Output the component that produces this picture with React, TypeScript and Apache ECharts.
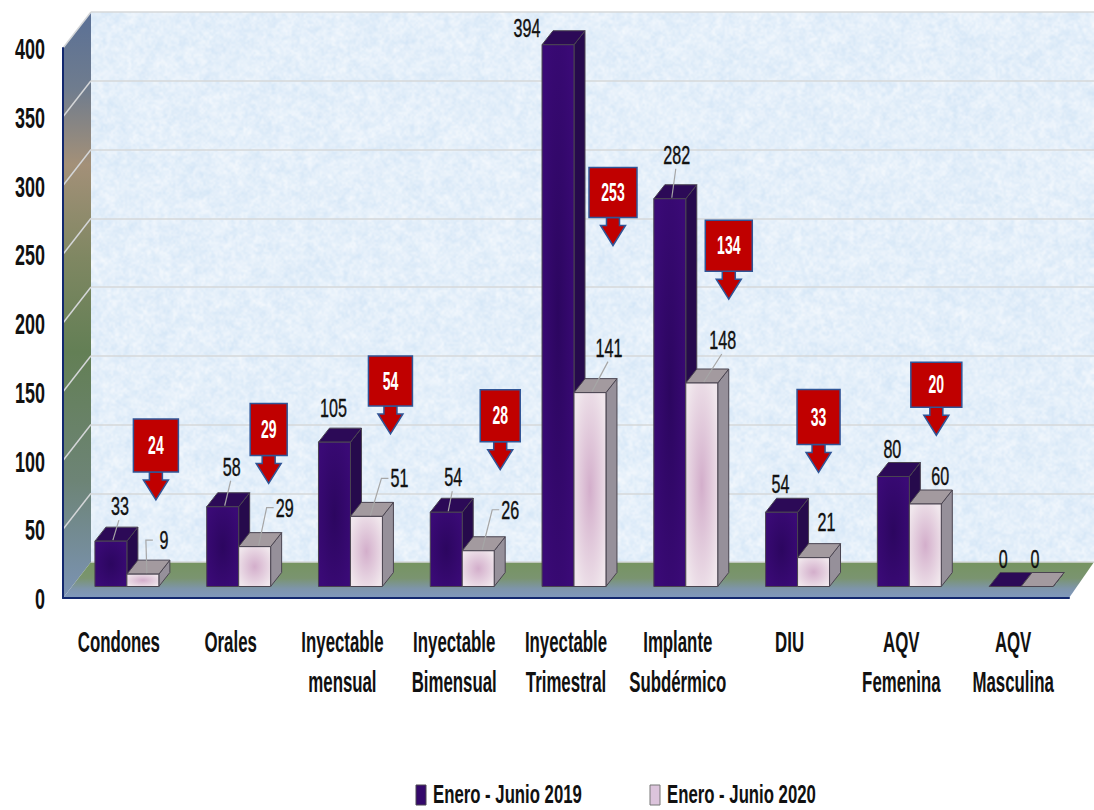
import React, { useEffect, useRef } from "react";
import * as echarts from "echarts";

const categories = ["Condones", "Orales", "Inyectable\nmensual", "Inyectable\nBimensual", "Inyectable\nTrimestral", "Implante\nSubdérmico", "DIU", "AQV\nFemenina", "AQV\nMasculina"];
const seriesNames = ["Enero - Junio 2019", "Enero - Junio 2020"];
const values2019 = [33, 58, 105, 54, 394, 282, 54, 80, 0];
const values2020 = [9, 29, 51, 26, 141, 148, 21, 60, 0];
const yTicks = [0, 50, 100, 150, 200, 250, 300, 350, 400];
const dropCategory = [0, 1, 2, 3, 4, 5, 6, 7];
const dropValues = [24, 29, 54, 28, 253, 134, 33, 20];
const dropLevels = [63, 75, 111, 85, 248, 209, 83, 110];

// layout only
const dropOffsetX = [29, 30, 40, 38, 39, 43, 21, 27];
const dropWidth = [45, 37, 44, 40, 48, 47, 43, 51];
const dropHeight = [53, 52, 50, 52, 50, 51, 55, 45];
const labelOffset2019 = [[9, -35], [9, -40], [-1, -34], [7, -35], [-31, -17], [7, -44], [-1, -28], [-1, -28], [-2, -28]];
const labelOffset2020 = [[21, -34], [30, -39], [33, -38], [32, -41], [19, -45], [21, -43], [13, -36], [15, -28], [-2, -28]];
const leader2019 = [1, 1, 0, 1, 0, 1, 0, 0, 0];
const leader2020 = [2, 2, 2, 2, 1, 1, 0, 0, 0];

const FONT = "'Liberation Sans', sans-serif";
const DX = 11;
const DY = -14;

function makeTexture(): string {
  const W = 1003, H = 550;
  const out = document.createElement("canvas");
  out.width = W; out.height = H;
  const ctx = out.getContext("2d")!;
  ctx.fillStyle = "#deebf9";
  ctx.fillRect(0, 0, W, H);
  let seed = 12345;
  const next = () => { seed = (seed * 1103515 + 12345) % 2147483648; return seed / 2147483648; };
  const layer = (w: number, h: number, alpha: number) => {
    const c = document.createElement("canvas");
    c.width = w; c.height = h;
    const x = c.getContext("2d")!;
    const img = x.createImageData(w, h);
    for (let i = 0; i < w * h; i++) {
      const n = next();
      img.data[i * 4] = 205 + n * 50;
      img.data[i * 4 + 1] = 226 + n * 29;
      img.data[i * 4 + 2] = 245 + n * 10;
      img.data[i * 4 + 3] = 255;
    }
    x.putImageData(img, 0, 0);
    ctx.globalAlpha = alpha;
    ctx.imageSmoothingEnabled = true;
    ctx.imageSmoothingQuality = "high";
    ctx.drawImage(c, 0, 0, W, H);
  };
  layer(90, 50, 0.4);
  layer(250, 138, 0.4);
  layer(500, 275, 0.25);
  ctx.globalAlpha = 1;
  return out.toDataURL("image/png");
}

const radial = (inner: string, outer: string) =>
  new echarts.graphic.RadialGradient(0.5, 0.5, 0.6, [
    { offset: 0, color: inner },
    { offset: 1, color: outer },
  ]);

function barSeries(
  name: string,
  values: number[],
  shift: number,
  color: { inner: string; outer: string; top: string; side: string },
  offsets: number[][],
  leaders: number[]
) {
  return {
    type: "custom",
    name,
    xAxisIndex: 1,
    yAxisIndex: 1,
    z: 5,
    clip: false,
    itemStyle: { color: color.inner },
    data: values.map((v, i) => [i, v]),
    encode: { x: 0, y: 1 },
    renderItem: (params: any, api: any) => {
      const i = api.value(0);
      const v = api.value(1);
      const top = api.coord([i, v]);
      const base = api.coord([i, 0]);
      const w = api.size([1, 0])[0] * 0.286;
      const x0 = top[0] + shift * w;
      const x1 = x0 + w;
      const stroke = { stroke: "#4a4450", lineWidth: 1 };
      const children: any[] = [];
      children.push({
        type: "polygon",
        shape: { points: [[x1, top[1]], [x1 + DX, top[1] + DY], [x1 + DX, base[1] + DY], [x1, base[1]]] },
        style: { fill: color.side, ...stroke },
      });
      children.push({
        type: "polygon",
        shape: { points: [[x0, top[1]], [x0 + DX, top[1] + DY], [x1 + DX, top[1] + DY], [x1, top[1]]] },
        style: { fill: color.top, ...stroke },
      });
      if (v > 0) {
        children.push({
          type: "rect",
          shape: { x: x0, y: top[1], width: w, height: base[1] - top[1] },
          style: { fill: radial(color.inner, color.outer), ...stroke },
        });
      }
      const cx = x0 + w / 2;
      const off = offsets[i];
      const lx = cx + off[0];
      const ly = top[1] + off[1];
      const line = { stroke: "#a6a6a6", lineWidth: 1.2, fill: "none" };
      if (leaders[i] === 1) {
        children.push({
          type: "polyline",
          shape: { points: [[cx + 2, top[1] - 1], [lx - 1, ly + 14]] },
          style: line,
        });
      } else if (leaders[i] === 2) {
        children.push({
          type: "polyline",
          shape: { points: [[cx + 4, top[1] - 1], [lx - 18, ly], [lx - 11, ly]] },
          style: line,
        });
      }
      children.push({
        type: "text",
        x: lx,
        y: ly,
        scaleX: 0.62,
        style: {
          text: String(v),
          fontFamily: FONT,
          fontSize: 26,
          fill: "#111111",
          stroke: "#111111",
          lineWidth: 0.4,
          align: "center",
          verticalAlign: "middle",
        },
      });
      return { type: "group", children };
    },
  };
}

const dropSeries = {
  type: "custom",
  name: "Diferencia",
  xAxisIndex: 1,
  yAxisIndex: 1,
  z: 6,
  clip: false,
  data: dropCategory.map((c, k) => [c, dropLevels[k], dropValues[k], k]),
  encode: { x: 0, y: 1 },
  renderItem: (params: any, api: any) => {
    const p = api.coord([api.value(0), api.value(1)]);
    const k = api.value(3);
    const cx = p[0] + dropOffsetX[k];
    const tip = p[1];
    const w = dropWidth[k];
    const h = dropHeight[k];
    const bottom = tip - 28;
    const border = { stroke: "#2f5597", lineWidth: 1.5 };
    return {
      type: "group",
      children: [
        {
          type: "polygon",
          shape: {
            points: [[cx - 6.5, bottom], [cx + 6.5, bottom], [cx + 6.5, bottom + 8], [cx + 12.5, bottom + 8], [cx, tip], [cx - 12.5, bottom + 8], [cx - 6.5, bottom + 8]],
          },
          style: { fill: "#c00000", ...border },
        },
        {
          type: "rect",
          shape: { x: cx - w / 2, y: bottom - h, width: w, height: h },
          style: { fill: "#c00000", ...border },
        },
        {
          type: "text",
          x: cx,
          y: bottom - h / 2,
          scaleX: 0.56,
          style: {
            text: String(api.value(2)),
            fontFamily: FONT,
            fontSize: 25,
            fontWeight: "bold",
            fill: "#ffffff",
            align: "center",
            verticalAlign: "middle",
          },
        },
      ],
    };
  },
};

// Tick labels are stretched tall and narrow in the reference, which plain axis labels cannot do.
const axisTextSeries = {
  type: "custom",
  name: "Ejes",
  xAxisIndex: 2,
  yAxisIndex: 2,
  z: 7,
  clip: false,
  silent: true,
  data: [[0, 0]],
  encode: { x: 0, y: 1 },
  renderItem: (params: any, api: any) => {
    const children: any[] = [];
    const base = { fontFamily: FONT, fontSize: 29, fontWeight: "bold", fill: "#111111", verticalAlign: "middle" };
    yTicks.forEach((t) => {
      children.push({
        type: "text",
        x: 45,
        y: api.coord([0, t])[1] + 1,
        scaleX: 0.62,
        style: { ...base, text: String(t), align: "right" },
      });
    });
    categories.forEach((name, i) => {
      const p = api.coord([i, 0]);
      name.split("\n").forEach((ln, j) => {
        children.push({
          type: "text",
          x: p[0],
          y: p[1] + 44 + j * 40,
          scaleX: 0.58,
          style: { ...base, text: ln, align: "center" },
        });
      });
    });
    return { type: "group", children };
  },
};

function backdropSeries(texture: string) {
  return {
    type: "custom",
    name: "Fondo",
    xAxisIndex: 0,
    yAxisIndex: 0,
    z: 0,
    clip: false,
    silent: true,
    data: [[0, 0]],
    encode: { x: 0, y: 1 },
    renderItem: (params: any, api: any) => {
      const c = params.coordSys;
      const L = c.x, T = c.y, R = c.x + c.width, B = c.y + c.height;
      const wallDX = 28, wallDY = 36;
      const frontRight = R - 25;
      const children: any[] = [
        { type: "image", style: { image: texture, x: L, y: T, width: c.width, height: c.height } },
        {
          type: "polygon",
          shape: { points: [[L - wallDX, T + wallDY], [L, T], [L, B], [L - wallDX, B + wallDY]] },
          style: {
            fill: new echarts.graphic.LinearGradient(0, 0, 0, 1, [
              { offset: 0, color: "#5a7096" },
              { offset: 0.13, color: "#6f7c8e" },
              { offset: 0.26, color: "#a39078" },
              { offset: 0.42, color: "#7f8762" },
              { offset: 0.58, color: "#637f55" },
              { offset: 0.8, color: "#6d8476" },
              { offset: 1, color: "#7b93b4" },
            ]),
          },
        },
        {
          type: "polygon",
          shape: { points: [[L - wallDX, B + wallDY], [L, B], [R, B], [frontRight, B + wallDY]] },
          style: {
            fill: new echarts.graphic.LinearGradient(0, 0, 0, 1, [
              { offset: 0, color: "#769460" },
              { offset: 0.45, color: "#7a9470" },
              { offset: 0.75, color: "#7e95ac" },
              { offset: 1, color: "#8099bd" },
            ]),
          },
        },
      ];
      yTicks.slice(1).forEach((t) => {
        const y = api.coord([0, t])[1];
        children.push({
          type: "line",
          shape: { x1: L - wallDX, y1: y + wallDY, x2: L, y2: y },
          style: { stroke: "#d4d6d8", lineWidth: 1.5 },
        });
      });
      return { type: "group", children };
    },
  };
}

function legendItem(name: string, x: number, fill: string, border: string) {
  return {
    type: "group",
    children: [
      { type: "rect", shape: { x, y: 785, width: 10, height: 20 }, style: { fill, stroke: border, lineWidth: 1 } },
      {
        type: "text",
        x: x + 17,
        y: 795,
        scaleX: 0.67,
        style: { text: name, fontFamily: FONT, fontSize: 25, fontWeight: "bold", fill: "#111111", align: "left", verticalAlign: "middle" },
      },
    ],
  };
}

export default function App() {
  const ref = useRef<HTMLDivElement>(null);

  useEffect(() => {
    const chart = echarts.init(ref.current!, undefined, { renderer: "svg" });
    const hiddenCat = { type: "category", data: categories, show: false };
    const hiddenVal = { type: "value", min: 0, max: 400, interval: 50, show: false };
    chart.setOption({
      animation: false,
      backgroundColor: "#ffffff",
      textStyle: { fontFamily: FONT },
      grid: [
        { left: 91, top: 12, width: 1003, height: 550 },
        { left: 71, top: 36.5, width: 1006, height: 550 },
        { left: 63, top: 48, width: 1006, height: 550 },
      ],
      xAxis: [
        { ...hiddenCat, gridIndex: 0 },
        { ...hiddenCat, gridIndex: 1 },
        {
          type: "category",
          gridIndex: 2,
          data: categories,
          z: 4,
          axisLine: { lineStyle: { color: "#12286e", width: 2 } },
          axisTick: { show: false },
          axisLabel: { show: false },
        },
      ],
      yAxis: [
        {
          type: "value",
          gridIndex: 0,
          min: 0,
          max: 400,
          interval: 50,
          z: 1,
          axisLine: { show: false },
          axisTick: { show: false },
          axisLabel: { show: false },
          splitLine: { show: true, lineStyle: { color: "#d6d8da", width: 1.5 } },
        },
        { ...hiddenVal, gridIndex: 1 },
        {
          type: "value",
          gridIndex: 2,
          min: 0,
          max: 400,
          interval: 50,
          z: 4,
          axisLine: { show: true, lineStyle: { color: "#12286e", width: 2 } },
          axisTick: { show: false },
          splitLine: { show: false },
          axisLabel: { show: false },
        },
      ],
      graphic: [
        legendItem(seriesNames[0], 416, "#34086b", "#4a4450"),
        legendItem(seriesNames[1], 650, "#dcc4dc", "#777777"),
      ],
      series: [
        backdropSeries(makeTexture()),
        barSeries(seriesNames[0], values2019, -1, { inner: "#2c0660", outer: "#3a0a76", top: "#2c0a57", side: "#260a4c" }, labelOffset2019, leader2019),
        barSeries(seriesNames[1], values2020, 0, { inner: "#d3aecb", outer: "#f0e6ec", top: "#a39a9f", side: "#96909a" }, labelOffset2020, leader2020),
        dropSeries,
        axisTextSeries,
      ],
    });
    return () => chart.dispose();
  }, []);

  return <div ref={ref} style={{ position: "fixed", left: 0, top: 0, width: 1094, height: 810 }} />;
}
